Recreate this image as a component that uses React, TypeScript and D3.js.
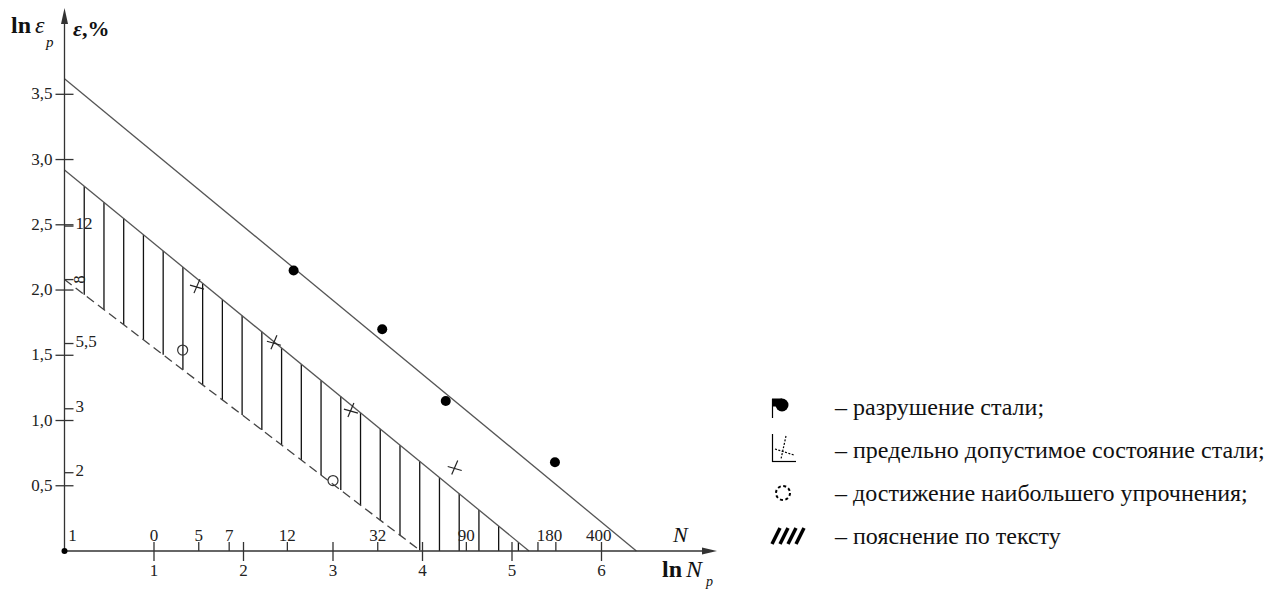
import * as d3 from "d3";

const lnNpTicks = [1, 2, 3, 4, 5, 6];
const lnEpsTicks = [0.5, 1.0, 1.5, 2.0, 2.5, 3.0, 3.5];
const nLabels = ["1", "0", "5", "7", "12", "32", "90", "180", "400"];
const nLabelPos = [0.09, 1, 1.5, 1.84, 2.49, 3.5, 4.49, 5.42, 5.97];
const nTickPos = [1.5, 1.84, 2.49, 3.5, 4.49, 5.29, 5.49];
const epsLabels = ["12", "8", "5,5", "3", "2"];
const epsPos = [2.49, 2.08, 1.59, 1.09, 0.6];

// points: ln Np / ln eps
const failNp = [2.56, 3.55, 4.26, 5.48];
const failEps = [2.15, 1.7, 1.15, 0.68];
const limitNp = [1.48, 2.34, 3.2, 4.36];
const limitEps = [2.03, 1.6, 1.08, 0.64];
const hardNp = [1.32, 3.0];
const hardEps = [1.54, 0.54];

const upperLine: [number, number][] = [[0, 3.62], [6.39, 0]];
const lowerLine: [number, number][] = [[0, 2.92], [5.19, 0]];
const dashedLine: [number, number][] = [[0, 2.08], [3.98, 0]];

const legendLabels = [
  "– разрушение стали;",
  "– предельно допустимое состояние стали;",
  "– достижение наибольшего упрочнения;",
  "– пояснение по тексту",
];

const W = 1278;
const H = 590;
const font = { fontFamily: "Liberation Serif" };

const x = d3.scaleLinear().domain([0, 6]).range([64.5, 601.5]);
const y = d3.scaleLinear().domain([0, 3.5]).range([551, 94.3]);

const lineAt = (l: [number, number][], v: number) => {
  const [[x0, y0], [x1, y1]] = l;
  return y0 + ((y1 - y0) * (v - x0)) / (x1 - x0);
};

const line = d3
  .line<[number, number]>()
  .x((d) => x(d[0]))
  .y((d) => y(d[1]));

const comma = (v: number) => v.toFixed(1).replace(".", ",");

const Cross = ({ cx, cy }: { cx: number; cy: number }) => (
  <g stroke="#222" strokeWidth={1.2}>
    <line x1={cx + 3} y1={cy - 7} x2={cx - 3} y2={cy + 7} />
    <line x1={cx - 7} y1={cy - 1} x2={cx + 7} y2={cy + 3} />
  </g>
);

export default function App() {
  const hatch = d3.range(0.2205, 5.1, 0.2205);
  const x0 = x(0);
  const y0 = y(0);
  const legendY = [407, 450, 493, 536];

  return (
    <svg width={W} height={H} style={{ position: "absolute", left: 0, top: 0, background: "#fff" }}>
      {/* hatch */}
      <g stroke="#111" strokeWidth={1.3}>
        {hatch.map((v, i) => (
          <line
            key={i}
            x1={x(v)}
            x2={x(v)}
            y1={y(Math.max(lineAt(dashedLine, v), 0))}
            y2={y(lineAt(lowerLine, v))}
          />
        ))}
      </g>

      {/* lines */}
      <path d={line(upperLine) || ""} fill="none" stroke="#555" strokeWidth={1.3} />
      <path d={line(lowerLine) || ""} fill="none" stroke="#555" strokeWidth={1.3} />
      <path
        d={line(dashedLine) || ""}
        fill="none"
        stroke="#444"
        strokeWidth={1.3}
        strokeDasharray="9 5"
      />

      {/* axes */}
      <g stroke="#333" strokeWidth={1.3}>
        <line x1={x0} y1={y0} x2={x0} y2={20} />
        <line x1={x0} y1={y0} x2={705} y2={y0} />
      </g>
      <path d={`M${x0},8 L${x0 - 3.5},24 L${x0 + 3.5},24 Z`} fill="#333" />
      <path d={`M717,${y0} L702,${y0 - 3.5} L702,${y0 + 3.5} Z`} fill="#333" />
      <circle cx={x0} cy={y0} r={3} fill="#000" />

      {/* y ticks ln eps */}
      {lnEpsTicks.map((v) => (
        <g key={v}>
          <line x1={x0 - 9} x2={x0 + 9} y1={y(v)} y2={y(v)} stroke="#333" strokeWidth={1.3} />
          <text x={x0 - 12} y={y(v) + 5} fontSize={17} textAnchor="end" fill="#222" style={font}>
            {comma(v)}
          </text>
        </g>
      ))}
      {/* y ticks eps % */}
      {epsPos.map((v, i) => (
        <g key={i}>
          <line x1={x0} x2={x0 + 9} y1={y(v)} y2={y(v)} stroke="#333" strokeWidth={1.3} />
          {epsLabels[i] === "8" ? (
            <text
              transform={`translate(${x0 + 20},${y(v)}) rotate(-90)`}
              fontSize={17}
              textAnchor="middle"
              fill="#222"
              style={font}
            >
              {epsLabels[i]}
            </text>
          ) : (
            <text x={x0 + 11} y={y(v) + 3} fontSize={17} fill="#222" style={font}>
              {epsLabels[i]}
            </text>
          )}
        </g>
      ))}

      {/* x ticks ln Np */}
      {lnNpTicks.map((v) => (
        <g key={v}>
          <line x1={x(v)} x2={x(v)} y1={y0 - 9} y2={y0 + 10} stroke="#333" strokeWidth={1.3} />
          <text x={x(v)} y={y0 + 25} fontSize={17} textAnchor="middle" fill="#222" style={font}>
            {v}
          </text>
        </g>
      ))}
      {/* N ticks */}
      {nTickPos.map((v, i) => (
        <line key={i} x1={x(v)} x2={x(v)} y1={y0 - 9} y2={y0} stroke="#333" strokeWidth={1.3} />
      ))}
      {nLabels.map((t, i) => (
        <text
          key={i}
          x={x(nLabelPos[i])}
          y={y0 - 10}
          fontSize={17}
          textAnchor="middle"
          fill="#222"
          style={font}
        >
          {t}
        </text>
      ))}

      {/* points */}
      {failNp.map((v, i) => (
        <circle key={i} cx={x(v)} cy={y(failEps[i])} r={5} fill="#000" />
      ))}
      {limitNp.map((v, i) => (
        <Cross key={i} cx={x(v)} cy={y(limitEps[i])} />
      ))}
      {hardNp.map((v, i) => (
        <circle key={i} cx={x(v)} cy={y(hardEps[i])} r={5} fill="none" stroke="#333" strokeWidth={1.2} />
      ))}

      {/* axis titles */}
      <text x={11} y={33} fontSize={24} fontWeight="bold" fill="#111" style={font}>
        ln
      </text>
      <text x={35} y={33} fontSize={24} fontStyle="italic" fill="#111" style={font}>
        ε
      </text>
      <text x={46} y={47} fontSize={15} fontStyle="italic" fill="#111" style={font}>
        p
      </text>
      <text x={73} y={36} fontSize={22} fontWeight="bold" fill="#111" style={font}>
        <tspan fontStyle="italic">ε</tspan>,%
      </text>

      <text x={662} y={577} fontSize={24} fontWeight="bold" fill="#111" style={font}>
        ln
      </text>
      <text x={686} y={577} fontSize={24} fontStyle="italic" fill="#111" style={font}>
        N
      </text>
      <text x={706} y={586} fontSize={14} fontStyle="italic" fill="#111" style={font}>
        p
      </text>
      <text x={673} y={542} fontSize={22} fontStyle="italic" fill="#111" style={font}>
        N
      </text>

      {/* legend */}
      <g>
        <g>
          <circle cx={782} cy={legendY[0] - 2} r={6.5} fill="#000" />
          <rect x={772} y={legendY[0] - 8.5} width={10} height={8} fill="#000" />
          <line x1={772.5} x2={772.5} y1={legendY[0] - 8} y2={legendY[0] + 11} stroke="#000" strokeWidth={1.2} />
        </g>
        <g stroke="#000" strokeWidth={1.2}>
          <line x1={772.5} x2={772.5} y1={legendY[1] - 16} y2={legendY[1] + 12} />
          <line x1={772} x2={796} y1={legendY[1] + 11.5} y2={legendY[1] + 11.5} />
          <g strokeDasharray="2 1.5">
            <line x1={786} y1={legendY[1] - 14} x2={781} y2={legendY[1] + 9} />
            <line x1={775} y1={legendY[1] - 1} x2={794} y2={legendY[1] + 5} />
          </g>
        </g>
        <circle
          cx={783}
          cy={legendY[2]}
          r={7}
          fill="none"
          stroke="#000"
          strokeWidth={2}
          strokeDasharray="3 2.5"
        />
        <g stroke="#000" strokeWidth={3.5}>
          {d3.range(4).map((i) => (
            <line key={i} x1={772 + i * 8} y1={legendY[3] + 8} x2={780 + i * 8} y2={legendY[3] - 8} />
          ))}
        </g>
        {legendLabels.map((t, i) => (
          <text key={i} x={835} y={legendY[i] + 8} fontSize={24} fill="#111" style={font}>
            {t}
          </text>
        ))}
      </g>
    </svg>
  );
}
